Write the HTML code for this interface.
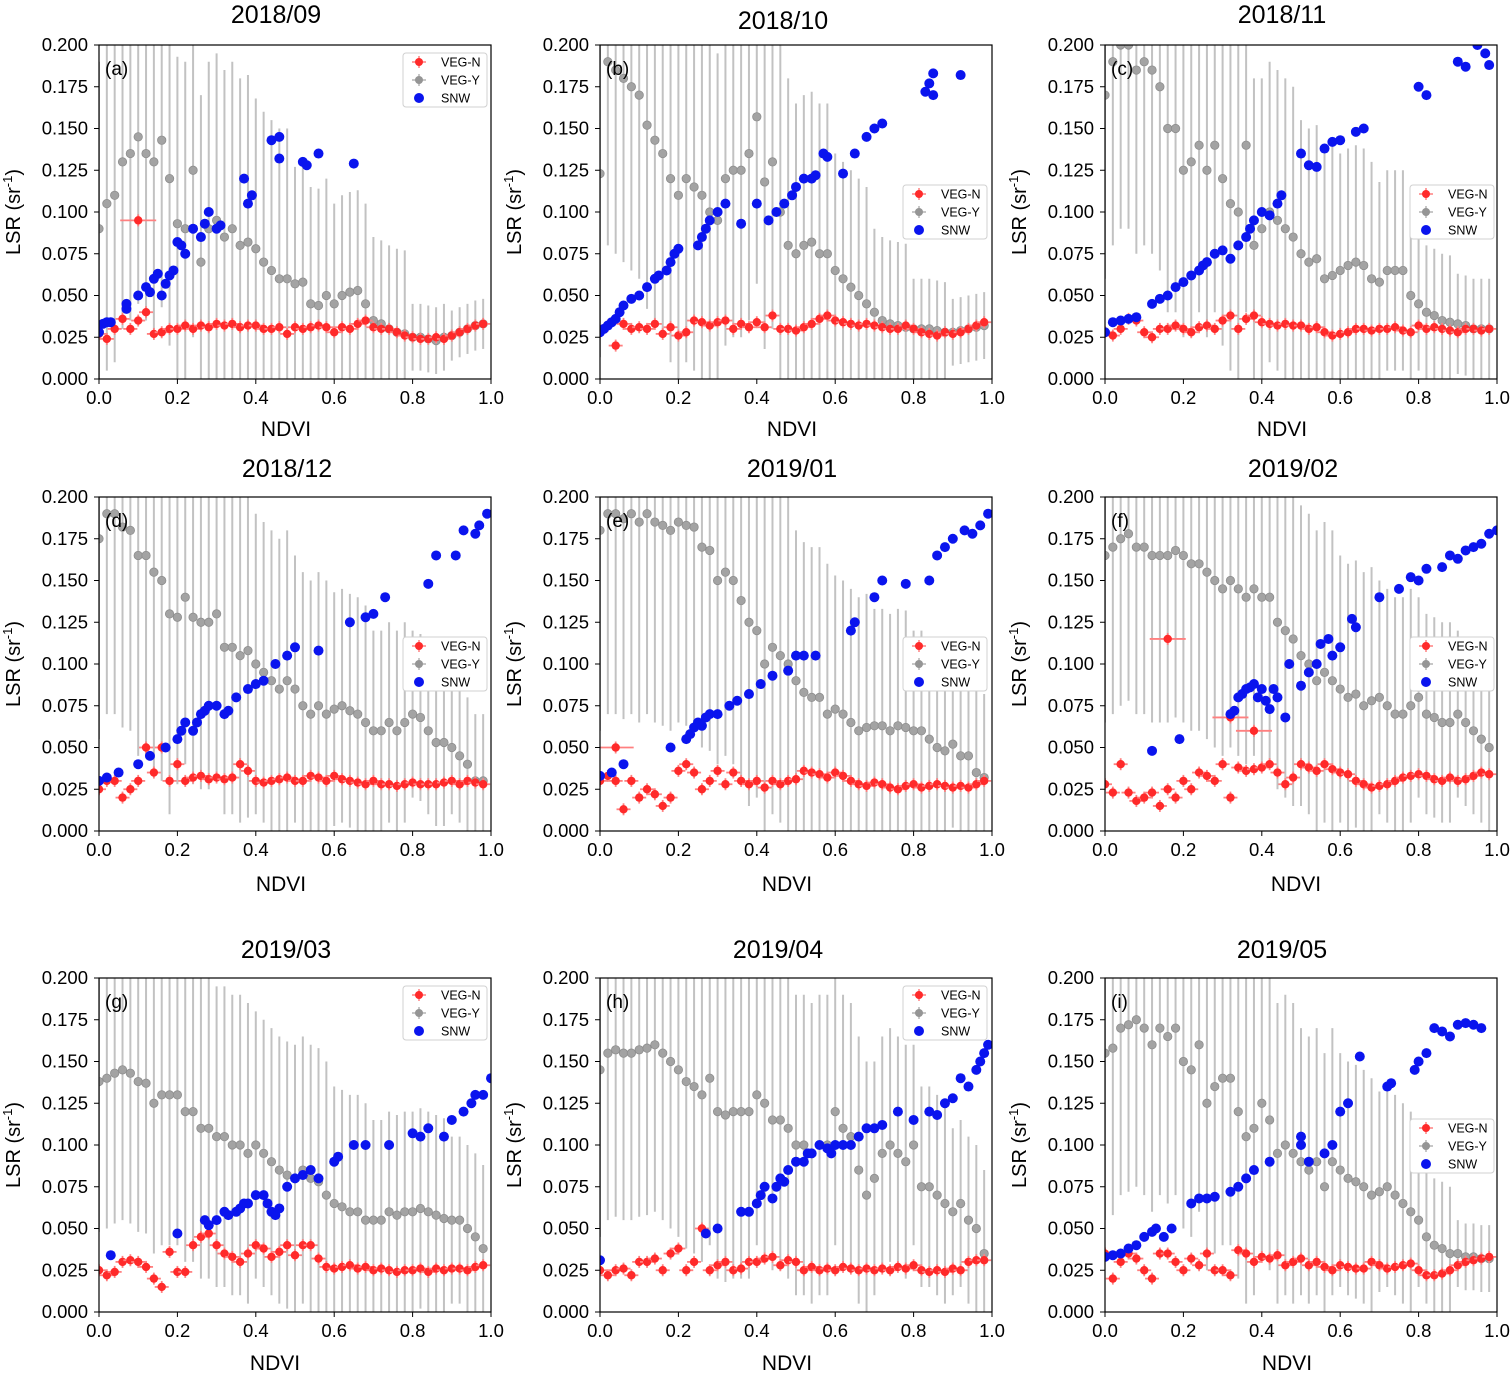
<!DOCTYPE html>
<html><head><meta charset="utf-8"><style>
html,body{margin:0;padding:0;background:#fff}
svg{display:block;font-family:"Liberation Sans","DejaVu Sans",sans-serif}
</style></head><body>
<svg id="fig" width="1512" height="1373" viewBox="0 0 1512 1373" xmlns="http://www.w3.org/2000/svg"></svg>
<script>
// ---- data (x for gray/red = index*0.02) ----
const xStep = 0.02;
const gray_a=[.09,.105,.11,.13,.135,.145,.135,.13,.143,.12,.093,.09,.125,.07,.09,.095,.085,.09,.08,.082,.078,.07,.065,.06,.06,.057,.058,.045,.044,.05,.045,.05,.052,.053,.045,.035,.033,.03,.028,.027,.025,.025,.024,.023,.025,.026,.028,.03,.032,.033];
const gray_b=[.123,.19,.185,.18,.175,.17,.152,.143,.135,.12,.11,.12,.115,.11,.1,.095,.12,.125,.125,.135,.157,.118,.13,.1,.08,.075,.08,.082,.075,.075,.065,.06,.055,.05,.045,.04,.035,.033,.032,.031,.03,.03,.03,.029,.028,.028,.029,.03,.031,.032];
const gray_c=[.17,.19,.2,.2,.185,.19,.185,.175,.15,.15,.125,.13,.14,.125,.14,.12,.105,.1,.14,.08,.09,.1,.095,.09,.085,.075,.07,.072,.06,.062,.065,.068,.07,.068,.06,.058,.065,.065,.065,.05,.045,.04,.038,.035,.034,.033,.032,.03,.03,.03];
const gray_d=[.175,.19,.19,.182,.18,.165,.165,.155,.15,.13,.128,.14,.128,.125,.125,.13,.11,.11,.105,.108,.1,.095,.09,.085,.09,.085,.075,.07,.075,.07,.073,.075,.072,.07,.065,.06,.06,.065,.06,.065,.07,.068,.06,.053,.053,.05,.045,.04,.03,.03];
const gray_e=[.18,.19,.19,.187,.19,.185,.19,.185,.183,.18,.185,.183,.182,.17,.168,.15,.155,.15,.138,.125,.12,.1,.11,.105,.1,.09,.083,.08,.08,.07,.073,.07,.065,.06,.062,.063,.063,.06,.063,.062,.06,.06,.055,.05,.048,.052,.045,.045,.035,.032];
const gray_f=[.165,.17,.175,.178,.17,.17,.165,.165,.165,.168,.165,.16,.16,.155,.15,.145,.15,.145,.14,.145,.14,.14,.125,.12,.115,.105,.1,.09,.095,.09,.085,.08,.082,.075,.078,.08,.075,.07,.07,.075,.08,.07,.068,.065,.065,.07,.065,.06,.055,.05];
const gray_g=[.138,.14,.143,.145,.143,.138,.137,.125,.13,.13,.13,.12,.12,.11,.11,.105,.105,.1,.1,.095,.1,.095,.09,.085,.082,.08,.085,.08,.078,.07,.065,.063,.06,.06,.055,.055,.055,.06,.058,.06,.06,.062,.06,.058,.056,.055,.055,.05,.045,.038];
const gray_h=[.145,.155,.157,.155,.155,.157,.158,.16,.155,.15,.145,.138,.135,.13,.14,.12,.118,.12,.12,.12,.13,.125,.115,.115,.11,.1,.1,.095,.1,.1,.12,.11,.105,.085,.07,.08,.095,.1,.095,.09,.1,.075,.075,.07,.065,.06,.065,.055,.05,.035];
const gray_i=[.155,.158,.17,.172,.175,.17,.16,.17,.165,.17,.15,.145,.16,.125,.135,.14,.14,.12,.105,.11,.125,.115,.095,.1,.095,.09,.085,.09,.075,.09,.085,.08,.078,.075,.07,.072,.075,.07,.065,.06,.055,.045,.04,.038,.035,.035,.033,.033,.032,.032];
// gray error half-widths per bin of 5 points
const err_a=[.1,.1,.1,.1,.09,.07,.06,.05,.02,.015];
const err_b=[.11,.11,.11,.1,.1,.09,.07,.05,.03,.02];
const err_c=[.11,.11,.1,.1,.09,.08,.07,.06,.04,.03];
const err_d=[.12,.12,.1,.1,.09,.08,.07,.06,.05,.04];
const err_e=[.12,.12,.12,.11,.1,.09,.08,.07,.06,.05];
const err_f=[.1,.1,.1,.1,.1,.09,.08,.07,.06,.05];
const err_g=[.09,.09,.09,.09,.08,.08,.07,.06,.06,.05];
const err_h=[.1,.1,.1,.1,.09,.09,.08,.07,.06,.05];
const err_i=[.1,.1,.1,.1,.09,.08,.07,.06,.04,.02];
const red_a=[.027,.024,.03,.036,.03,.035,.04,.027,.028,.03,.03,.032,.03,.032,.031,.033,.032,.033,.031,.032,.032,.03,.03,.031,.027,.031,.03,.031,.032,.031,.028,.031,.03,.033,.035,.031,.03,.03,.028,.026,.025,.024,.024,.025,.024,.026,.028,.03,.032,.033];
const red_b=[.028,.032,.02,.033,.03,.031,.03,.033,.027,.031,.026,.028,.035,.034,.032,.034,.035,.03,.033,.031,.034,.031,.038,.03,.03,.029,.031,.033,.036,.038,.035,.034,.033,.032,.033,.032,.031,.03,.03,.032,.03,.028,.027,.026,.028,.027,.028,.03,.032,.034];
const red_c=[.028,.026,.03,.036,.035,.028,.025,.03,.03,.032,.03,.028,.031,.032,.03,.035,.038,.03,.036,.038,.034,.033,.032,.033,.032,.032,.03,.031,.028,.026,.027,.028,.03,.03,.029,.03,.03,.031,.029,.028,.032,.03,.031,.03,.029,.028,.03,.03,.029,.03];
const red_d=[.025,.03,.03,.02,.025,.03,.05,.035,.05,.03,.04,.03,.032,.033,.031,.032,.031,.032,.04,.036,.03,.029,.03,.031,.032,.03,.03,.033,.032,.03,.033,.031,.03,.029,.028,.03,.028,.028,.027,.028,.029,.028,.028,.028,.029,.03,.028,.03,.029,.028];
const red_e=[.03,.033,.03,.013,.03,.02,.025,.022,.015,.02,.036,.04,.035,.025,.03,.036,.028,.035,.03,.028,.03,.026,.03,.028,.03,.031,.036,.035,.034,.032,.035,.033,.03,.028,.027,.029,.028,.026,.025,.027,.028,.026,.027,.028,.027,.026,.027,.026,.028,.03];
const red_f=[.028,.023,.04,.023,.018,.02,.023,.015,.025,.02,.03,.025,.035,.033,.03,.04,.02,.038,.036,.037,.038,.04,.035,.028,.032,.04,.038,.036,.04,.037,.035,.034,.03,.028,.026,.027,.028,.03,.032,.033,.034,.033,.031,.03,.032,.03,.031,.033,.035,.034];
const red_g=[.025,.022,.024,.03,.031,.03,.027,.02,.015,.036,.024,.024,.04,.045,.047,.04,.035,.033,.03,.035,.04,.038,.033,.036,.04,.034,.04,.04,.032,.027,.026,.027,.028,.026,.027,.025,.026,.025,.024,.025,.025,.026,.024,.026,.025,.026,.026,.025,.027,.028];
const red_h=[.025,.022,.025,.026,.022,.03,.03,.032,.025,.035,.038,.025,.03,.05,.025,.028,.03,.025,.026,.03,.03,.032,.033,.028,.031,.03,.025,.027,.025,.026,.025,.027,.026,.025,.026,.025,.026,.025,.027,.026,.028,.025,.024,.025,.024,.026,.025,.03,.031,.031];
const red_i=[.035,.02,.03,.035,.032,.025,.02,.035,.035,.03,.025,.032,.028,.035,.025,.025,.022,.037,.035,.03,.033,.032,.034,.028,.03,.032,.028,.03,.027,.025,.028,.027,.026,.026,.03,.028,.026,.027,.028,.029,.025,.022,.022,.023,.025,.028,.03,.031,.032,.033];
// red outliers with wide x error
const redExX_a=[.1], redExY_a=[.095];
const redExX_f=[.16,.32,.38], redExY_f=[.115,.068,.06];
const redExX_e=[.04], redExY_e=[.05];
const blueX_a=[0,.01,.02,.03,.07,.07,.1,.12,.13,.14,.15,.16,.17,.18,.19,.2,.21,.22,.24,.26,.27,.28,.3,.31,.37,.38,.39,.44,.46,.46,.52,.53,.56,.65];
const blueY_a=[.028,.033,.034,.034,.042,.045,.05,.055,.052,.06,.063,.05,.057,.062,.065,.082,.08,.075,.09,.085,.093,.1,.09,.092,.12,.105,.11,.143,.145,.132,.13,.128,.135,.129];
const blueX_b=[0,.01,.02,.03,.04,.05,.06,.08,.1,.12,.14,.15,.17,.18,.19,.2,.25,.26,.27,.28,.3,.32,.36,.4,.43,.45,.47,.49,.5,.52,.54,.55,.57,.58,.62,.65,.68,.7,.72,.83,.84,.85,.85,.92];
const blueY_b=[.028,.03,.032,.034,.036,.04,.044,.048,.05,.055,.06,.062,.065,.07,.075,.078,.08,.085,.09,.095,.1,.105,.093,.105,.095,.1,.105,.11,.115,.12,.12,.122,.135,.133,.123,.135,.145,.15,.153,.172,.177,.183,.17,.182];
const blueX_c=[0,.02,.04,.06,.08,.12,.14,.16,.18,.2,.22,.24,.25,.26,.28,.3,.32,.34,.36,.37,.38,.4,.42,.44,.45,.5,.52,.54,.56,.58,.6,.64,.66,.8,.82,.9,.92,.95,.97,.98];
const blueY_c=[.028,.034,.035,.036,.037,.045,.048,.05,.055,.058,.062,.065,.068,.07,.075,.077,.072,.08,.085,.09,.095,.1,.098,.105,.11,.135,.128,.127,.138,.142,.143,.148,.15,.175,.17,.19,.187,.2,.195,.188];
const blueX_d=[0,.02,.05,.1,.13,.17,.2,.21,.22,.24,.25,.26,.27,.28,.3,.32,.33,.35,.38,.4,.42,.45,.48,.5,.56,.64,.68,.7,.73,.84,.86,.91,.93,.96,.97,.99];
const blueY_d=[.03,.032,.035,.04,.045,.05,.055,.06,.065,.06,.065,.07,.072,.075,.075,.07,.072,.08,.085,.088,.09,.1,.105,.11,.108,.125,.128,.13,.14,.148,.165,.165,.18,.178,.183,.19];
const blueX_e=[0,.03,.06,.18,.22,.23,.24,.25,.26,.27,.28,.3,.33,.35,.38,.41,.44,.48,.5,.52,.55,.64,.65,.7,.72,.78,.84,.86,.88,.9,.93,.95,.97,.99];
const blueY_e=[.033,.035,.04,.05,.055,.058,.062,.065,.063,.068,.07,.07,.075,.078,.082,.088,.093,.096,.105,.105,.105,.12,.125,.14,.15,.148,.15,.165,.17,.175,.18,.178,.183,.19];
const blueX_f=[.12,.19,.32,.33,.34,.35,.36,.37,.38,.39,.4,.41,.42,.43,.44,.46,.47,.5,.52,.54,.55,.57,.58,.6,.63,.64,.7,.75,.78,.8,.82,.86,.88,.9,.92,.94,.96,.98,1];
const blueY_f=[.048,.055,.07,.072,.08,.082,.085,.086,.088,.08,.085,.078,.073,.085,.08,.068,.1,.087,.095,.1,.112,.115,.105,.11,.127,.122,.14,.145,.152,.15,.157,.158,.165,.163,.168,.17,.172,.178,.18];
const blueX_g=[.03,.2,.27,.28,.3,.32,.33,.35,.36,.37,.38,.4,.42,.43,.44,.45,.46,.48,.5,.52,.54,.56,.6,.61,.65,.68,.74,.8,.82,.84,.88,.9,.93,.95,.96,.98,1];
const blueY_g=[.034,.047,.055,.052,.055,.06,.058,.06,.062,.065,.065,.07,.07,.065,.06,.058,.062,.075,.08,.082,.085,.08,.09,.093,.1,.1,.1,.107,.105,.11,.105,.115,.12,.125,.13,.13,.14];
const blueX_h=[0,.27,.3,.36,.38,.4,.41,.42,.44,.45,.46,.47,.48,.5,.52,.53,.54,.56,.58,.59,.6,.62,.64,.66,.68,.7,.72,.76,.8,.84,.86,.88,.9,.92,.94,.96,.97,.98,.99];
const blueY_h=[.031,.047,.05,.06,.06,.065,.07,.075,.068,.075,.08,.078,.085,.09,.09,.095,.095,.1,.098,.095,.1,.1,.1,.105,.11,.11,.112,.12,.115,.12,.118,.125,.128,.14,.135,.145,.15,.155,.16];
const blueX_i=[0,.02,.04,.06,.08,.1,.12,.13,.15,.17,.22,.24,.26,.28,.32,.34,.36,.38,.42,.5,.5,.52,.56,.58,.6,.62,.65,.72,.73,.79,.8,.82,.84,.86,.88,.9,.92,.94,.96];
const blueY_i=[.033,.034,.035,.038,.04,.045,.048,.05,.045,.05,.065,.068,.068,.069,.072,.075,.08,.085,.09,.105,.1,.09,.095,.1,.12,.125,.153,.135,.137,.145,.15,.155,.17,.168,.165,.172,.173,.172,.17];
const titles=["2018/09","2018/10","2018/11","2018/12","2019/01","2019/02","2019/03","2019/04","2019/05"];
const panelTags=["(a)","(b)","(c)","(d)","(e)","(f)","(g)","(h)","(i)"];
const yTicks=[0,0.025,0.05,0.075,0.1,0.125,0.15,0.175,0.2];
const xTicks=[0,0.2,0.4,0.6,0.8,1.0];
const legendNames=["VEG-N","VEG-Y","SNW"];

// ---- layout ----
const colX=[99,600,1105], rowY=[45,497,978], PW=392, PH=334;
const titleX=[[276,783,1282],[287,792,1293],[286,778,1282]];
const titleY=[[23,29,23],[477,477,477],[958,958,958]];
const ndviX=[[286,792,1282],[281,787,1296],[275,787,1287]];
const ndviY=[436,891,1370];
const legendPos=[[403,53],[903,185],[1410,185],[403,637],[903,637],[1410,637],[403,986],[903,986],[1410,1119]];
const panels=[
 {gray:gray_a,err:err_a,red:red_a,bx:blueX_a,by:blueY_a,ex:redExX_a,ey:redExY_a},
 {gray:gray_b,err:err_b,red:red_b,bx:blueX_b,by:blueY_b,ex:[],ey:[]},
 {gray:gray_c,err:err_c,red:red_c,bx:blueX_c,by:blueY_c,ex:[],ey:[]},
 {gray:gray_d,err:err_d,red:red_d,bx:blueX_d,by:blueY_d,ex:[],ey:[]},
 {gray:gray_e,err:err_e,red:red_e,bx:blueX_e,by:blueY_e,ex:redExX_e,ey:redExY_e},
 {gray:gray_f,err:err_f,red:red_f,bx:blueX_f,by:blueY_f,ex:redExX_f,ey:redExY_f},
 {gray:gray_g,err:err_g,red:red_g,bx:blueX_g,by:blueY_g,ex:[],ey:[]},
 {gray:gray_h,err:err_h,red:red_h,bx:blueX_h,by:blueY_h,ex:[],ey:[]},
 {gray:gray_i,err:err_i,red:red_i,bx:blueX_i,by:blueY_i,ex:[],ey:[]}
];
const NS="http://www.w3.org/2000/svg";
const svg=document.getElementById('fig');
function mk(tag,attrs,parent){const e=document.createElementNS(NS,tag);for(const k in attrs)e.setAttribute(k,attrs[k]);(parent||svg).appendChild(e);return e;}

panels.forEach((p,idx)=>{
  const r=Math.floor(idx/3), c=idx%3;
  const x0=colX[c], y0=rowY[r];
  const sx=v=>x0+v*PW;
  const sy=v=>y0+PH-(v/0.2)*PH;
  const clampY=v=>Math.max(0,Math.min(0.2,v));
  const g=mk('g',{});
  
  
  const clipId='clip'+idx;
  const cp=mk('clipPath',{id:clipId},g);
  mk('rect',{x:x0,y:y0,width:PW,height:PH},cp);
  const plot=mk('g',{'clip-path':'url(#'+clipId+')'},g);
  
  
  // gray
  p.gray.forEach((v,i)=>{
    const x=sx(i*xStep), e=p.err[Math.floor(i/5)];
    const bar=mk('line',{x1:x,x2:x,y1:sy(clampY(v-e)),y2:sy(clampY(v+e)),stroke:'#c2c2c2','stroke-width':2},plot);
    
    
  });
  p.gray.forEach((v,i)=>{
    const pt=mk('circle',{cx:sx(i*xStep),cy:sy(v),r:4.2,fill:'#a3a3a3',stroke:'#8e8e8e','stroke-width':0.8},plot);
    
    
  });
  // red
  const drawRed=(xv,yv,xe)=>{
    const x=sx(xv),y=sy(yv);
    mk('line',{x1:x-xe,x2:x+xe,y1:y,y2:y,stroke:'#ff8080','stroke-width':1.8},plot);
    mk('line',{x1:x,x2:x,y1:y-6,y2:y+6,stroke:'#ff8080','stroke-width':1.8},plot);
    const pt=mk('circle',{cx:x,cy:y,r:4.2,fill:'#ff2a2a'},plot);
    
    
  };
  p.red.forEach((v,i)=>drawRed(i*xStep,v,7));
  p.ex.forEach((xv,i)=>drawRed(xv,p.ey[i],18));
  // blue
  p.bx.forEach((xv,i)=>{
    const pt=mk('circle',{cx:sx(xv),cy:sy(p.by[i]),r:5,fill:'#0a14ee'},plot);
    
    
  });
  // frame
  mk('rect',{x:x0,y:y0,width:PW,height:PH,fill:'none',stroke:'#000','stroke-width':1.2},g);
  // ticks
  yTicks.forEach(t=>{
    const y=sy(t);
    mk('line',{x1:x0-5,x2:x0,y1:y,y2:y,stroke:'#000','stroke-width':1},g);
    const tx=mk('text',{x:x0-11,y:y+6,'font-size':18.5,'text-anchor':'end',fill:'#000'},g);
    tx.textContent=t.toFixed(3);
    
    
  });
  xTicks.forEach(t=>{
    const x=sx(t);
    mk('line',{x1:x,x2:x,y1:y0+PH,y2:y0+PH+5,stroke:'#000','stroke-width':1},g);
    const tx=mk('text',{x:x,y:y0+PH+25,'font-size':18.5,'text-anchor':'middle',fill:'#000'},g);
    tx.textContent=t.toFixed(1);
    
    
  });
  // tag
  const tg=mk('text',{x:x0+6,y:y0+30,'font-size':19,fill:'#000'},g);
  tg.textContent=panelTags[idx];
  
  
  // title
  const tt=mk('text',{x:titleX[r][c],y:titleY[r][c],'font-size':25,'text-anchor':'middle',fill:'#000'},g);
  tt.textContent=titles[idx];
  
  
  // x label
  const xl=mk('text',{x:ndviX[r][c],y:ndviY[r],'font-size':21,'text-anchor':'middle',fill:'#000'},g);
  xl.textContent='NDVI';
  
  
  // y label
  const ly=y0+PH/2, lx=x0-79;
  const yl=mk('text',{x:lx,y:ly,'font-size':20,'text-anchor':'middle',fill:'#000',transform:'rotate(-90 '+lx+' '+ly+')'},g);
  yl.innerHTML='LSR (sr<tspan font-size="13" dy="-8">-1</tspan><tspan dy="8">)</tspan>';
  
  
  // legend
  const [lxp,lyp]=legendPos[idx];
  const lg=mk('g',{},g);
  
  
  mk('rect',{x:lxp,y:lyp,width:84,height:54,rx:3,fill:'#fff',stroke:'#d0d0d0','stroke-width':1},lg);
  const cols=['#ff2a2a','#959595','#0a14ee'];
  legendNames.forEach((n,k)=>{
    const yy=lyp+9+k*18;
    if(k<2){
      mk('line',{x1:lxp+9,x2:lxp+23,y1:yy,y2:yy,stroke:k?'#b4b4b4':'#ff8080','stroke-width':1.5},lg);
      mk('line',{x1:lxp+16,x2:lxp+16,y1:yy-6,y2:yy+6,stroke:k?'#b4b4b4':'#ff8080','stroke-width':1.5},lg);
    }
    mk('circle',{cx:lxp+16,cy:yy,r:k<2?4:5,fill:cols[k]},lg);
    const t=mk('text',{x:lxp+38,y:yy+4.5,'font-size':12.5,fill:'#000'},lg);
    t.textContent=n;
    
    
  });
});
</script>
</body></html>
